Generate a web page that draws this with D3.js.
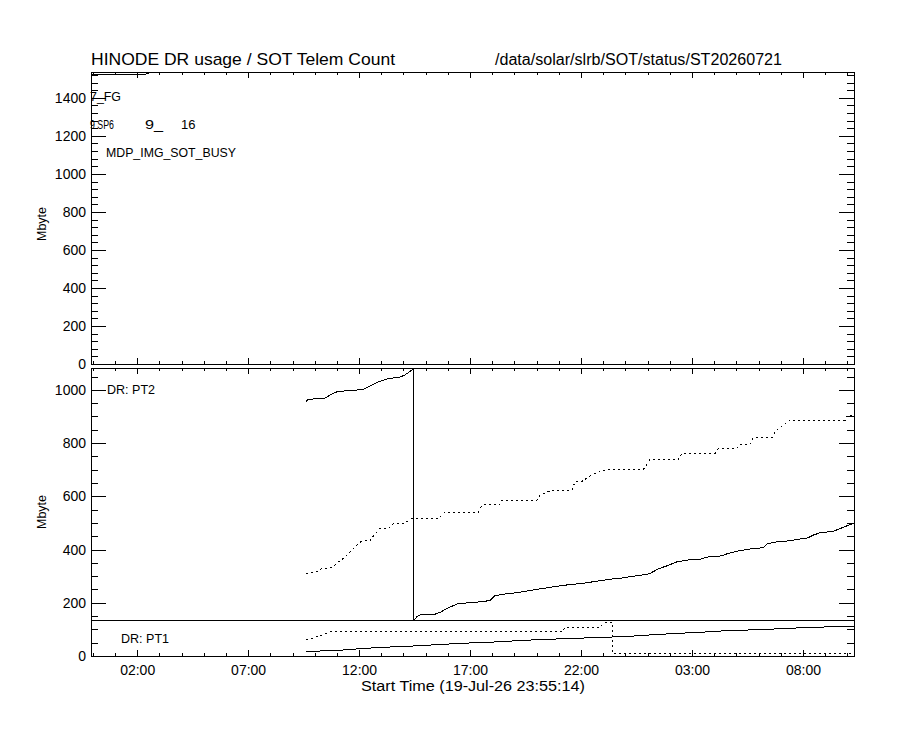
<!DOCTYPE html>
<html>
<head>
<meta charset="utf-8">
<script src="https://cdn.jsdelivr.net/npm/d3@7"></script>
<style>
  body { margin: 0; background: #fff; }
  svg text { font-family: "Liberation Sans", Arial, sans-serif; fill: #000; }
  .tick text { font-size: 14px; }
  .tick line, .frame, .data { shape-rendering: crispEdges; }
</style>
</head>
<body>
<svg id="chart" width="900" height="730"></svg>
<script>
// time axis in hours from 20-Jul-26 00:00 (start is 19-Jul-26 23:55:14)
var tStart = -0.0794, tEnd = 34.3;
var xTickHours = [2, 7, 12, 17, 22, 27, 32];
var xTickLabels = ["02:00", "07:00", "12:00", "17:00", "22:00", "03:00", "08:00"];
var xMinorHours = d3.range(0, 35);

var topMax = 1536, botMax = 1082;
var topTicks = [0, 200, 400, 600, 800, 1000, 1200, 1400];
var topMinor = d3.range(0, 1537, 40);
var botTicks = [0, 200, 400, 600, 800, 1000];
var botMinor = d3.range(0, 1082, 50);
var pt1Size = 135;   // PT1 partition (lower strip)

// top panel: SOT telem count
var topLine = [[-0.08, 1525], [2.39, 1525], [2.67, 1536], [2.75, 1545]];

// PT2 used (solid), drawn above the PT1 strip
var pt2Solid = [[9.60, 956], [9.70, 964], [10.47, 969], [10.78, 985], [11.05, 994], [12.18, 1001],
  [12.49, 1014], [12.85, 1029], [13.26, 1041], [13.85, 1048], [14.07, 1056], [14.43, 1077],
  [14.46, 1085], [14.47, 135], [14.61, 148], [14.75, 154], [14.97, 157], [15.42, 157], [15.65, 164],
  [15.96, 179], [16.33, 192], [16.46, 198], [17.09, 200], [17.45, 204], [17.90, 208], [18.13, 227],
  [18.49, 232], [19.12, 238], [19.84, 248], [20.61, 258], [21.37, 267], [22.09, 273], [22.86, 283],
  [23.44, 290], [23.76, 292], [24.21, 298], [24.89, 306], [25.11, 310], [25.47, 327], [25.88, 339],
  [26.33, 354], [27.01, 363], [27.37, 364], [27.82, 374], [28.36, 376], [28.58, 384], [29.03, 394],
  [29.62, 402], [30.21, 407], [30.39, 422], [30.84, 429], [31.29, 432], [32.23, 444], [32.46, 454],
  [32.77, 463], [33.36, 468], [33.68, 479], [34.04, 491], [34.35, 500]];

// PT2 dotted
var pt2Dotted = [[9.61, 309], [10.06, 315], [10.32, 328], [10.77, 331], [11.06, 353], [11.37, 372],
  [11.67, 397], [11.97, 422], [12.12, 432], [12.49, 434], [12.72, 459], [12.94, 478], [13.32, 478],
  [13.55, 497], [14.07, 500], [14.37, 517], [15.57, 517], [15.87, 540], [17.37, 540], [17.53, 567],
  [18.35, 570], [18.43, 584], [20.01, 584], [20.16, 605], [20.61, 621], [21.58, 621], [21.73, 655],
  [22.03, 655], [22.32, 672], [22.68, 688], [22.86, 692], [23.31, 701], [24.81, 701], [25.11, 739],
  [26.39, 739], [26.54, 761], [28.04, 761], [28.19, 780], [29.02, 781], [29.17, 796], [29.62, 796],
  [29.77, 820], [30.60, 820], [30.75, 843], [31.05, 864], [31.43, 886], [33.90, 886], [34.01, 904],
  [34.35, 905]];

// PT1 used (solid) and PT1 dotted
var pt1Solid = [[9.61, 17], [11.01, 21], [11.98, 27], [13.11, 33], [13.85, 35], [15.20, 41],
  [16.25, 46], [17.23, 50], [18.20, 53], [19.25, 58], [20.23, 62], [21.28, 65], [22.26, 68],
  [23.31, 71], [24.35, 75], [25.25, 80], [26.33, 85], [27.37, 89], [28.34, 94], [29.32, 97],
  [30.37, 100], [31.35, 104], [32.47, 108], [33.45, 110], [34.35, 111]];

var pt1Dotted = [[9.61, 61], [10.06, 71], [10.39, 81], [10.61, 89], [10.80, 92], [21.19, 92],
  [21.25, 107], [22.86, 107], [23.00, 123], [23.40, 127], [23.43, 10], [34.35, 10]];

var svg = d3.select("#chart");
var L = 91, R = 854;
var panels = {
  top: { y0: 72, y1: 364 },
  bot: { y0: 368, y1: 656 }
};

var x = d3.scaleLinear().domain([tStart, tEnd]).range([L, R]);
var yTop = d3.scaleLinear().domain([0, topMax]).range([panels.top.y1, panels.top.y0]);
var yBot = d3.scaleLinear().domain([0, botMax]).range([panels.bot.y1, panels.bot.y0]);

function clean(g) { g.select(".domain").remove(); }

function drawAxes(p, y, major, minor, xLabels) {
  // y ticks, left and right, pointing inward
  svg.append("g").attr("transform", "translate(" + L + ",0)")
    .call(d3.axisLeft(y).tickValues(major).tickSize(-15).tickPadding(5).tickFormat(d3.format("d"))).call(clean);
  svg.append("g").attr("transform", "translate(" + L + ",0)")
    .call(d3.axisLeft(y).tickValues(minor).tickSize(-7).tickFormat("")).call(clean);
  svg.append("g").attr("transform", "translate(" + R + ",0)")
    .call(d3.axisRight(y).tickValues(major).tickSize(-15).tickFormat("")).call(clean);
  svg.append("g").attr("transform", "translate(" + R + ",0)")
    .call(d3.axisRight(y).tickValues(minor).tickSize(-7).tickFormat("")).call(clean);

  // x ticks, bottom and top
  svg.append("g").attr("transform", "translate(0," + p.y1 + ")")
    .call(d3.axisBottom(x).tickValues(xTickHours).tickSize(-6).tickPadding(9)
      .tickFormat(function(d, i) { return xLabels ? xTickLabels[i] : ""; })).call(clean);
  svg.append("g").attr("transform", "translate(0," + p.y1 + ")")
    .call(d3.axisBottom(x).tickValues(xMinorHours).tickSize(-3).tickFormat("")).call(clean);
  svg.append("g").attr("transform", "translate(0," + p.y0 + ")")
    .call(d3.axisTop(x).tickValues(xTickHours).tickSize(-6).tickFormat("")).call(clean);
  svg.append("g").attr("transform", "translate(0," + p.y0 + ")")
    .call(d3.axisTop(x).tickValues(xMinorHours).tickSize(-3).tickFormat("")).call(clean);

  svg.append("rect").attr("class", "frame")
    .attr("x", L).attr("y", p.y0).attr("width", R - L).attr("height", p.y1 - p.y0)
    .attr("fill", "none").attr("stroke", "#000");
}

drawAxes(panels.top, yTop, topTicks, topMinor, false);
drawAxes(panels.bot, yBot, botTicks, botMinor, true);

// clip paths
var defs = svg.append("defs");
defs.append("clipPath").attr("id", "clipTop").append("rect")
  .attr("x", L).attr("y", panels.top.y0).attr("width", R - L).attr("height", panels.top.y1 - panels.top.y0);
defs.append("clipPath").attr("id", "clipBot").append("rect")
  .attr("x", L).attr("y", panels.bot.y0).attr("width", R - L).attr("height", panels.bot.y1 - panels.bot.y0);

function plot(data, y, clip, dotted) {
  var line = d3.line().x(function(d) { return x(d[0]); }).y(function(d) { return y(d[1]); });
  svg.append("path").datum(data)
    .attr("class", "data")
    .attr("clip-path", "url(#" + clip + ")")
    .attr("d", line)
    .attr("fill", "none")
    .attr("stroke", "#000")
    .attr("stroke-width", 1)
    .attr("stroke-dasharray", dotted ? "2,3" : null);
}

plot(topLine, yTop, "clipTop", false);

// PT1 / PT2 partition line
svg.append("line").attr("class", "data")
  .attr("x1", L).attr("x2", R)
  .attr("y1", Math.round(yBot(pt1Size)) + 0.5).attr("y2", Math.round(yBot(pt1Size)) + 0.5)
  .attr("stroke", "#000");

plot(pt2Solid, yBot, "clipBot", false);
plot(pt2Dotted, yBot, "clipBot", true);
plot(pt1Solid, yBot, "clipBot", false);
plot(pt1Dotted, yBot, "clipBot", true);

// titles and labels
svg.append("text").attr("x", 91).attr("y", 65).attr("font-size", 17)
  .attr("textLength", 304).attr("lengthAdjust", "spacingAndGlyphs")
  .text("HINODE DR usage / SOT Telem Count");
svg.append("text").attr("x", 495).attr("y", 65).attr("font-size", 16)
  .attr("textLength", 287).attr("lengthAdjust", "spacingAndGlyphs")
  .text("/data/solar/slrb/SOT/status/ST20260721");

svg.append("text").attr("x", 473).attr("y", 691).attr("font-size", 14)
  .attr("text-anchor", "middle").attr("textLength", 224).attr("lengthAdjust", "spacingAndGlyphs")
  .text("Start Time (19-Jul-26 23:55:14)");

[224, 512].forEach(function(cy) {
  svg.append("text").attr("transform", "translate(46," + cy + ") rotate(-90)")
    .attr("font-size", 13).attr("text-anchor", "middle")
    .attr("textLength", 34).attr("lengthAdjust", "spacingAndGlyphs")
    .text("Mbyte");
});

svg.append("text").attr("x", 107).attr("y", 394).attr("font-size", 13)
  .attr("textLength", 48).attr("lengthAdjust", "spacingAndGlyphs").text("DR: PT2");
svg.append("text").attr("x", 121).attr("y", 643).attr("font-size", 13)
  .attr("textLength", 48).attr("lengthAdjust", "spacingAndGlyphs").text("DR: PT1");

// status annotations in top panel
var ann = svg.append("g").attr("font-size", 13);
ann.append("text").attr("x", 90).attr("y", 101).attr("textLength", 31)
  .attr("lengthAdjust", "spacingAndGlyphs").text("7_FG");
ann.append("text").attr("x", 90).attr("y", 129).attr("font-size", 12).attr("textLength", 24)
  .attr("lengthAdjust", "spacingAndGlyphs").text("9 SP6");
ann.append("text").attr("x", 145).attr("y", 129).attr("textLength", 18)
  .attr("lengthAdjust", "spacingAndGlyphs").text("9_");
ann.append("text").attr("x", 181).attr("y", 129).text("16");
ann.append("text").attr("x", 106).attr("y", 157).attr("textLength", 130)
  .attr("lengthAdjust", "spacingAndGlyphs").text("MDP_IMG_SOT_BUSY");
</script>
</body>
</html>
